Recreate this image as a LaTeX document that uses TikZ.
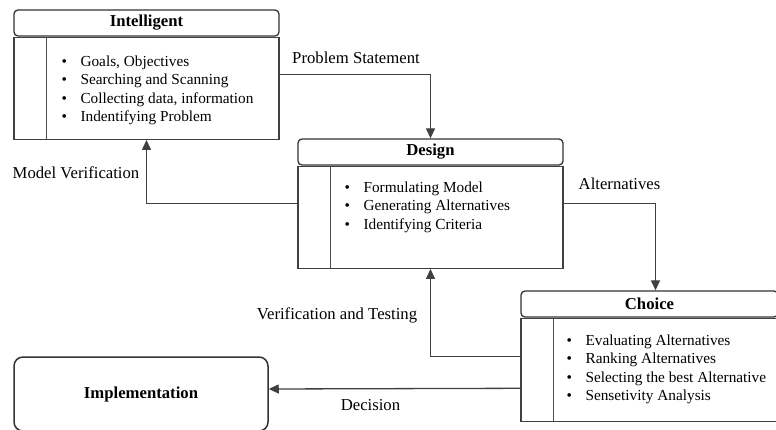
\documentclass[tikz,border=0pt]{standalone}
\usepackage{fontspec}
\setmainfont{Liberation Serif}
\usetikzlibrary{arrows.meta,positioning}
\newcommand{\itm}[1]{\makebox[19pt][l]{\textbullet}#1}
\begin{document}
\begin{tikzpicture}[x=1pt,y=1pt,
        boxhead/.style={draw=black!80, line width=1.3pt, rounded corners=4pt, minimum width=265pt, minimum height=26pt, inner sep=0pt, font=\fontsize{16.7}{20}\selectfont\bfseries},
        boxbody/.style={draw=black!75, line width=1.3pt, minimum width=265pt, minimum height=102pt, inner sep=0pt},
        boxline/.style={draw=black!70, line width=1.3pt},
        bullets/.style={anchor=north west, align=left, inner sep=0pt, font=\fontsize{15.3}{18.5}\selectfont},
        flowlabel/.style={inner sep=0pt, font=\fontsize{16.7}{20}\selectfont},
        arrow/.style={draw=black!75, line width=1.3pt, -{Triangle[length=10pt,width=9pt]}}
    ]
        \useasboundingbox (0,0) rectangle (776,-430);

        % Intelligent
        \node[boxhead] (intelhead) at (146.5,-23) {Intelligent};
        \node[boxbody, below=0pt of intelhead] (intelbody) {};
        \draw[boxline] ([xshift=33pt]intelbody.north west) -- ([xshift=33pt]intelbody.south west);
        \node[bullets] (intellist) at ([shift={(48pt,-19pt)}]intelbody.north west)
            {\itm{Goals, Objectives}\\ \itm{Searching and Scanning}\\ \itm{Collecting data, information}\\ \itm{Indentifying Problem}};

        % Design
        \node[boxhead] (designhead) at (430.5,-152) {Design};
        \node[boxbody, below=0pt of designhead] (designbody) {};
        \draw[boxline] ([xshift=33pt]designbody.north west) -- ([xshift=33pt]designbody.south west);
        \node[bullets] (designlist) at ([shift={(47pt,-16pt)}]designbody.north west)
            {\itm{Formulating Model}\\ \itm{Generating Alternatives}\\ \itm{Identifying Criteria}};

        % Choice
        \node[boxhead, minimum width=257pt] (choicehead) at (649.5,-304) {Choice};
        \node[boxbody, minimum width=257pt, minimum height=103pt, below=0pt of choicehead] (choicebody) {};
        \draw[boxline] ([xshift=33pt]choicebody.north west) -- ([xshift=33pt]choicebody.south west);
        \node[bullets] (choicelist) at ([shift={(46pt,-17pt)}]choicebody.north west)
            {\itm{Evaluating Alternatives}\\ \itm{Ranking Alternatives}\\ \itm{Selecting the best Alternative}\\ \itm{Sensetivity Analysis}};

        % Implementation
        \node[draw=black!80, line width=1.5pt, rounded corners=9pt, minimum width=254pt, minimum height=74pt, font=\fontsize{16.7}{20}\selectfont\bfseries] (impl) at (141,-394) {Implementation};

        % connectors
        \draw[arrow] ([yshift=14pt]intelbody.east) -| (designhead.north);
        \draw[arrow] ([yshift=14pt]designbody.east) -| ([xshift=6pt]choicehead.north);
        \draw[arrow] ([yshift=14pt]designbody.west) -| (intelbody.south);
        \draw[arrow] ([yshift=13.5pt]choicebody.west) -| (designbody.south);
        \draw[arrow] ([yshift=-18.5pt]choicebody.west) -- ([yshift=5pt]impl.east);

        % labels
        \node[flowlabel] (problemlbl) at (356,-58) {Problem Statement};
        \node[flowlabel] (altlbl) at (619.5,-184) {Alternatives};
        \node[flowlabel] (modellbl) at (76,-173) {Model Verification};
        \node[flowlabel] (testlbl) at (337,-315) {Verification and Testing};
        \node[flowlabel] (decisionlbl) at (370.5,-405) {Decision};
    \end{tikzpicture}
\end{document}
